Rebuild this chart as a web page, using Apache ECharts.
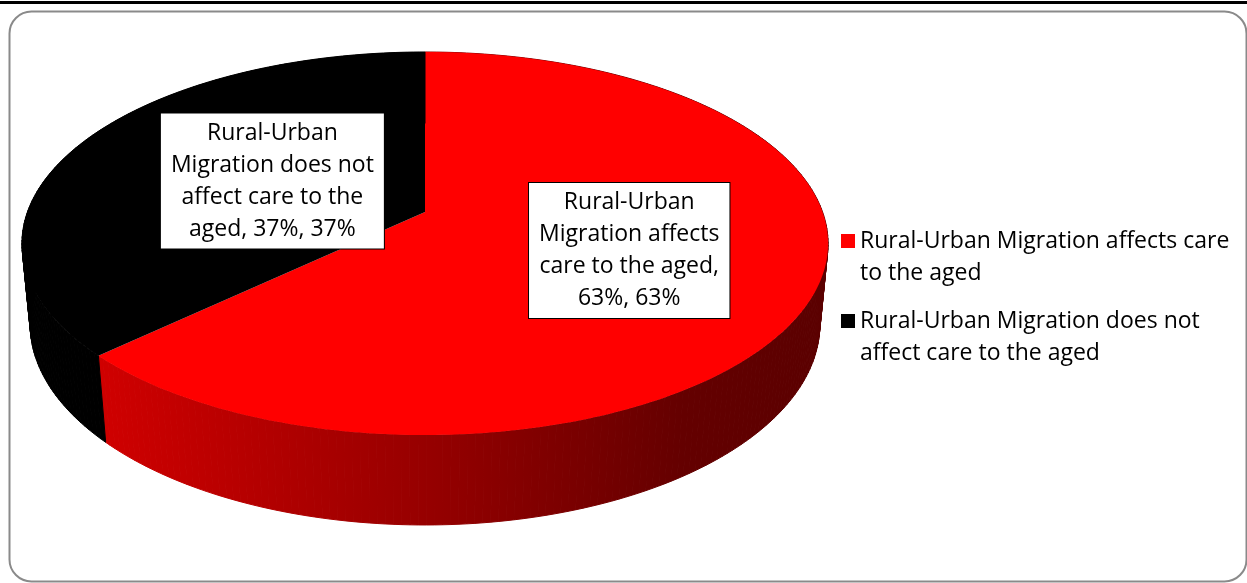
<!DOCTYPE html>
<html><head><meta charset="utf-8">
<script src="https://cdn.jsdelivr.net/npm/echarts/dist/echarts.min.js"></script>
<style>html,body{margin:0;padding:0;background:#fff}#c{width:1247px;height:583px}</style>
</head><body><div id="c"></div>
<script>
// ---- data ----
const categories = [
  'Rural-Urban Migration affects care to the aged',
  'Rural-Urban Migration does not affect care to the aged'
];
const values = [63, 37];
const sliceColors = ['#ff0000', '#000000'];
// data-label text, wrapped as in the reference
const labelLines = [
  ['Rural-Urban', 'Migration affects', 'care to the aged,', '63%, 63%'],
  ['Rural-Urban', 'Migration does not', 'affect care to the', 'aged, 37%, 37%']
];
const legendLines = [
  ['Rural-Urban Migration affects care', 'to the aged'],
  ['Rural-Urban Migration does not', 'affect care to the aged']
];

// ---- 3D pie projection (style/geometry settings) ----
const CAM = {cx: 425, cy: 212, F: 2135, D: 5.37, sinP: 0.4687, cosP: 0.8834, H: 0.232};
const labelRadius = [0.54, 0.43];
const FONT = '"Open Sans", Lato, sans-serif';
const FS = 23;

function proj(X, Y, Z) {
  const yc = Y * CAM.sinP - Z * CAM.cosP;
  const zc = CAM.D - Y * CAM.cosP - Z * CAM.sinP;
  return [CAM.cx + CAM.F * X / zc, CAM.cy + CAM.F * yc / zc];
}
function rim(thetaDeg, r, Z) {
  const t = thetaDeg * Math.PI / 180;
  return proj(r * Math.cos(t), -r * Math.sin(t), Z);
}
const total = values.reduce((a, b) => a + b, 0);

function renderSlice(idx) {
  return function (params, api) {
    const v = api.value(0);
    let before = 0;
    for (let k = 0; k < idx; k++) before += values[k];
    const a0 = 90 - 360 * before / total;
    const a1 = a0 - 360 * v / total;
    const steps = Math.max(8, Math.ceil(Math.abs(a1 - a0)));
    const topArc = [], botArc = [];
    for (let s = 0; s <= steps; s++) {
      const th = a0 + (a1 - a0) * s / steps;
      topArc.push(rim(th, 1, 0));
      botArc.push(rim(th, 1, -CAM.H));
    }
    const wallFill = idx === 0 ? {
      type: 'linear', x: 100, y: 0, x2: 830, y2: 0, global: true,
      colorStops: [
        {offset: 0, color: '#d00000'},
        {offset: 0.45, color: '#960000'},
        {offset: 0.8, color: '#640000'},
        {offset: 1, color: '#5a0000'}
      ]
    } : '#000000';
    const children = [];
    // side wall drawn as strips of quads (covers the silhouette correctly)
    for (let s = 0; s < steps; s++) {
      children.push({
        type: 'polygon',
        shape: {points: [topArc[s], topArc[s + 1], botArc[s + 1], botArc[s]]},
        style: {fill: wallFill, stroke: wallFill, lineWidth: 1}
      });
    }
    const center = proj(0, 0, 0);
    children.push({type: 'polygon', shape: {points: [center].concat(topArc)},
      style: {fill: sliceColors[idx], stroke: null}});
    const mid = (a0 + a1) / 2;
    const lp = rim(mid, labelRadius[idx], 0);
    children.push({
      type: 'text', x: lp[0], y: lp[1] - (idx === 0 ? 3 : 0), z2: 100,
      style: {
        text: labelLines[idx].join('\n'),
        fontFamily: FONT, fontSize: FS, lineHeight: 32, fill: '#000',
        align: 'center', verticalAlign: 'middle',
        backgroundColor: '#fff', borderColor: '#000', borderWidth: 1,
        padding: [4, 10, 3, 10]
      }
    });
    return {type: 'group', children: children};
  };
}

const chart = echarts.init(document.getElementById('c'), null, {renderer: 'canvas'});
chart.setOption({
  backgroundColor: '#fff',
  animation: false,
  legend: {
    data: categories,
    orient: 'vertical',
    left: 841, top: 193, padding: 0,
    itemWidth: 14, itemHeight: 14, itemGap: -16,
    icon: 'rect',
    selectedMode: false,
    formatter: name => '\n' + legendLines[categories.indexOf(name)].join('\n'),
    textStyle: {fontFamily: FONT, fontSize: FS, lineHeight: 32, color: '#000'}
  },
  graphic: [
    {type: 'rect', shape: {x: 0, y: 1, width: 1247, height: 3}, style: {fill: '#000'}, silent: true},
    {type: 'rect', shape: {x: 9.5, y: 11.5, width: 1237, height: 570, r: 22},
     style: {fill: null, stroke: '#8a8a8a', lineWidth: 2}, silent: true}
  ],
  series: categories.map((name, i) => ({
    type: 'custom',
    name: name,
    coordinateSystem: 'none',
    itemStyle: {color: sliceColors[i]},
    renderItem: renderSlice(i),
    data: [values[i]]
  }))
});
</script>
</body></html>
